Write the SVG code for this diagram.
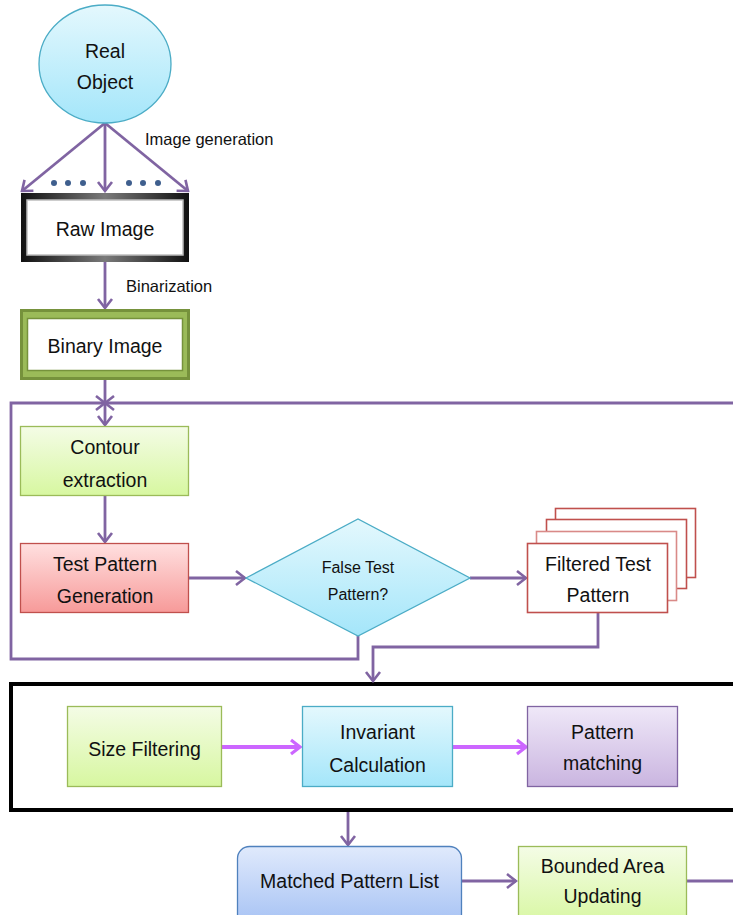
<svg xmlns="http://www.w3.org/2000/svg" width="733" height="915" viewBox="0 0 733 915">
  <defs>
    <style>
      .lbl { font-family: "Liberation Sans", Arial, sans-serif; font-size: 19.5px; fill: #111; text-anchor: middle; }
      .note { font-family: "Liberation Sans", Arial, sans-serif; font-size: 16.5px; fill: #111; }
      .small { font-size: 16px; }
      .conn { fill: none; stroke: #8064A2; stroke-width: 2.8; }
      .flow { fill: none; stroke: #CC66FF; stroke-width: 4; }
    </style>
    <marker id="arr" viewBox="-11 -9 13 18" refX="0" refY="0" markerWidth="13" markerHeight="18" markerUnits="userSpaceOnUse" orient="auto">
      <path d="M-9,-7 L0,0 L-9,7" fill="none" stroke="#8064A2" stroke-width="2.6"/>
    </marker>
    <marker id="arrM" viewBox="-11 -9 13 18" refX="0" refY="0" markerWidth="13" markerHeight="18" markerUnits="userSpaceOnUse" orient="auto">
      <path d="M-9,-7 L0,0 L-9,7" fill="none" stroke="#CC66FF" stroke-width="3.2"/>
    </marker>
    <linearGradient id="gCyan" x1="0" y1="0" x2="0" y2="1">
      <stop offset="0" stop-color="#E4F8FD"/>
      <stop offset="1" stop-color="#A4E6FA"/>
    </linearGradient>
    <linearGradient id="gGreen" x1="0" y1="0" x2="0" y2="1">
      <stop offset="0" stop-color="#F4FCE6"/>
      <stop offset="1" stop-color="#D7F7A0"/>
    </linearGradient>
    <linearGradient id="gRed" x1="0" y1="0" x2="0" y2="1">
      <stop offset="0" stop-color="#FFE0E0"/>
      <stop offset="1" stop-color="#F79A99"/>
    </linearGradient>
    <linearGradient id="gPurple" x1="0" y1="0" x2="0" y2="1">
      <stop offset="0" stop-color="#EFE8F8"/>
      <stop offset="1" stop-color="#CAB5E0"/>
    </linearGradient>
    <linearGradient id="gBlue" x1="0" y1="0" x2="0" y2="1">
      <stop offset="0" stop-color="#E0EAFC"/>
      <stop offset="1" stop-color="#A5C1F4"/>
    </linearGradient>
    <linearGradient id="gFrame" x1="0" y1="0" x2="1" y2="0">
      <stop offset="0" stop-color="#111"/>
      <stop offset="0.5" stop-color="#7a7a7a"/>
      <stop offset="1" stop-color="#111"/>
    </linearGradient>
  </defs>

  <rect width="733" height="915" fill="#fff"/>

  <!-- enclosing frame of the matching stage (drawn first, no fill) -->
  <g id="matching-stage">
    <rect x="11" y="684" width="740" height="126" fill="none" stroke="#000" stroke-width="4"/>
  </g>

  <!-- connectors -->
  <g id="connectors">
    <path class="conn" d="M105,123 L22,191" marker-end="url(#arr)"/>
    <path class="conn" d="M105,123 L105,191" marker-end="url(#arr)"/>
    <path class="conn" d="M105,123 L188,191" marker-end="url(#arr)"/>
    <path class="conn" d="M105,262 L105,308" marker-end="url(#arr)"/>
    <path class="conn" d="M105,380 L105,425" marker-end="url(#arr)"/>
    <path class="conn" d="M105,496 L105,542" marker-end="url(#arr)"/>
    <path class="conn" d="M189,578 L245,578" marker-end="url(#arr)"/>
    <path class="conn" d="M470,578 L526,578" marker-end="url(#arr)"/>
    <!-- rejected patterns loop back to contour extraction -->
    <path class="conn" d="M358,636 V659 H11 V403 H105" marker-end="url(#arr)"/>
    <!-- filtered patterns into the matching stage -->
    <path class="conn" d="M598,613 V647 H373 V681" marker-end="url(#arr)"/>
    <path class="conn" d="M348,812 V845" marker-end="url(#arr)"/>
    <path class="conn" d="M462,881 L516,881" marker-end="url(#arr)"/>
    <!-- bounded area feeds back to the top of the loop -->
    <path class="conn" d="M687,881 H760 V403 H105" marker-end="url(#arr)"/>
    <path class="flow" d="M222,747 L300,747" marker-end="url(#arrM)"/>
    <path class="flow" d="M452,747 L526,747" marker-end="url(#arrM)"/>
    <g fill="#3F5F8E">
      <circle cx="54" cy="183" r="3"/>
      <circle cx="68" cy="183" r="3"/>
      <circle cx="83" cy="183" r="3"/>
      <circle cx="129" cy="183" r="3"/>
      <circle cx="143" cy="183" r="3"/>
      <circle cx="158" cy="183" r="3"/>
    </g>
    <text class="note" x="145" y="145">Image generation</text>
    <text class="note" x="126" y="292">Binarization</text>
  </g>

  <g id="real-object">
    <ellipse cx="105" cy="64" rx="66" ry="59" fill="url(#gCyan)" stroke="#4BACC6" stroke-width="1.3"/>
    <text class="lbl" x="105" y="58">Real</text>
    <text class="lbl" x="105" y="89">Object</text>
  </g>

  <g id="raw-image">
    <rect x="21" y="193" width="168" height="69" fill="url(#gFrame)"/>
    <rect x="27" y="200" width="156" height="55" fill="#fff" stroke="#bdbdbd" stroke-width="1.5"/>
    <text class="lbl" x="105" y="236">Raw Image</text>
  </g>

  <g id="binary-image">
    <rect x="20" y="309" width="170" height="71" fill="#76923C"/>
    <rect x="23" y="312" width="164" height="65" fill="#9BBB59"/>
    <rect x="27.5" y="318.5" width="155" height="52" fill="#fff" stroke="#76923C" stroke-width="1.5"/>
    <text class="lbl" x="105" y="353">Binary Image</text>
  </g>

  <g id="contour-extraction">
    <rect x="20.5" y="426.5" width="168" height="69" fill="url(#gGreen)" stroke="#9BBB59" stroke-width="1.3"/>
    <text class="lbl" x="105" y="454">Contour</text>
    <text class="lbl" x="105" y="487">extraction</text>
  </g>

  <g id="test-pattern-generation">
    <rect x="20.5" y="543.5" width="168" height="69" fill="url(#gRed)" stroke="#C0504D" stroke-width="1.3"/>
    <text class="lbl" x="105" y="571">Test Pattern</text>
    <text class="lbl" x="105" y="603">Generation</text>
  </g>

  <g id="false-test-pattern">
    <polygon points="246,578 358,519 470,578 358,636" fill="url(#gCyan)" stroke="#4BACC6" stroke-width="1.3"/>
    <text class="lbl small" x="358" y="573">False Test</text>
    <text class="lbl small" x="358" y="600">Pattern?</text>
  </g>

  <g id="filtered-test-pattern" fill="#fff" stroke="#C0504D" stroke-width="1.6">
    <rect x="555.5" y="508.5" width="140" height="69" stroke="#C0504D"/>
    <rect x="546.5" y="519.5" width="140" height="69" stroke="#C0504D"/>
    <rect x="536.5" y="531.5" width="140" height="69" stroke="#D98A88"/>
    <rect x="527.5" y="543.5" width="140" height="69"/>
    <text class="lbl" x="598" y="571" stroke="none">Filtered Test</text>
    <text class="lbl" x="598" y="602" stroke="none">Pattern</text>
  </g>

  <g id="size-filtering">
    <rect x="67.5" y="706.5" width="154" height="80" fill="url(#gGreen)" stroke="#9BBB59" stroke-width="1.3"/>
    <text class="lbl" x="144.5" y="756">Size Filtering</text>
  </g>

  <g id="invariant-calculation">
    <rect x="302.5" y="706.5" width="150" height="80" fill="url(#gCyan)" stroke="#4BACC6" stroke-width="1.3"/>
    <text class="lbl" x="377.5" y="739">Invariant</text>
    <text class="lbl" x="377.5" y="772">Calculation</text>
  </g>

  <g id="pattern-matching">
    <rect x="527.5" y="706.5" width="150" height="80" fill="url(#gPurple)" stroke="#8064A2" stroke-width="1.3"/>
    <text class="lbl" x="602.5" y="739">Pattern</text>
    <text class="lbl" x="602.5" y="770">matching</text>
  </g>

  <g id="matched-pattern-list">
    <rect x="237.5" y="846.5" width="224" height="80" rx="12" fill="url(#gBlue)" stroke="#4F81BD" stroke-width="1.3"/>
    <text class="lbl" x="349.5" y="888">Matched Pattern List</text>
  </g>

  <g id="bounded-area-updating">
    <rect x="518.5" y="846.5" width="168" height="80" fill="url(#gGreen)" stroke="#9BBB59" stroke-width="1.3"/>
    <text class="lbl" x="602.5" y="873">Bounded Area</text>
    <text class="lbl" x="602.5" y="903">Updating</text>
  </g>
</svg>
